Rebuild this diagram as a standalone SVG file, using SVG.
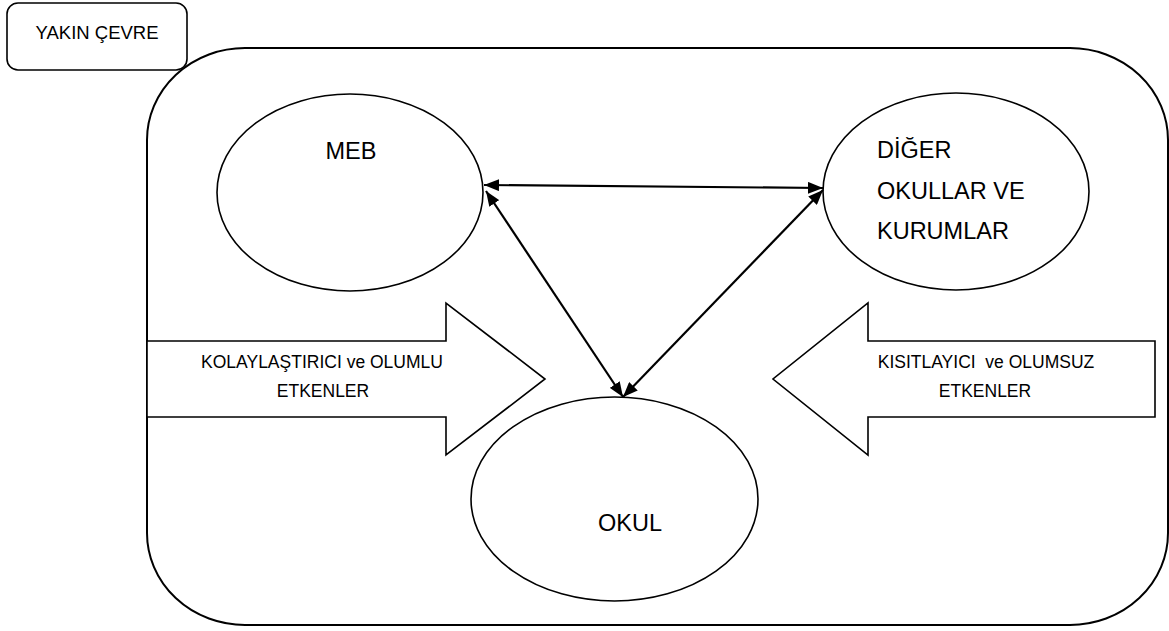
<svg xmlns="http://www.w3.org/2000/svg" width="1169" height="631" viewBox="0 0 1169 631">
<defs>
<style>
.shape{fill:#fff;stroke:#000;stroke-width:1.6}
.frame{fill:#fff;stroke:#000;stroke-width:2}
.conn{fill:none;stroke:#000;stroke-width:2.2;marker-start:url(#ah);marker-end:url(#ah)}
.t{font-family:"Liberation Sans",Arial,sans-serif;fill:#000}
.big{font-size:23.5px}
.mid{font-size:17.5px;white-space:pre}
.small{font-size:18.5px}
</style>
<marker id="ah" markerUnits="userSpaceOnUse" markerWidth="15" markerHeight="12" viewBox="0 0 15 12" refX="15" refY="6" orient="auto-start-reverse">
<path d="M0,0 L15,6 L0,12 z" fill="#000"/>
</marker>
</defs>
<rect width="1169" height="631" fill="#fff"/>
<g id="yakin-cevre-frame">
<rect class="frame" x="147" y="48" width="1021" height="577" rx="98" ry="92"/>
</g>
<g id="yakin-cevre-label">
<rect class="shape" x="7" y="3" width="180" height="67" rx="11" ry="11"/>
<text class="t small" x="97" y="39" text-anchor="middle">YAKIN ÇEVRE</text>
</g>
<g id="olumlu-etkenler">
<polygon class="shape" points="147,341 446,341 446,303 545,379 446,455 446,417 147,417"/>
<text class="t mid" x="322" y="368" text-anchor="middle">KOLAYLAŞTIRICI ve OLUMLU</text>
<text class="t mid" x="323" y="397" text-anchor="middle">ETKENLER</text>
</g>
<g id="olumsuz-etkenler">
<polygon class="shape" points="1155,341 868,341 868,303 773,379 868,455 868,417 1155,417"/>
<text class="t mid" x="986" y="368" text-anchor="middle">KISITLAYICI  ve OLUMSUZ</text>
<text class="t mid" x="985" y="397" text-anchor="middle">ETKENLER</text>
</g>
<g id="meb">
<ellipse class="shape" cx="350" cy="192.5" rx="133" ry="98.5"/>
<text class="t big" x="351" y="159" text-anchor="middle">MEB</text>
</g>
<g id="diger-okullar">
<ellipse class="shape" cx="956" cy="191.5" rx="133" ry="98.5"/>
<text class="t big" x="877" y="158">DİĞER</text>
<text class="t big" x="877" y="199">OKULLAR VE</text>
<text class="t big" x="877" y="239">KURUMLAR</text>
</g>
<g id="okul">
<ellipse class="shape" cx="614.5" cy="499" rx="143.5" ry="102"/>
<text class="t big" x="630" y="531" text-anchor="middle">OKUL</text>
</g>
<g id="connectors">
<line class="conn" x1="484" y1="185" x2="823" y2="188"/>
<line class="conn" x1="486" y1="191" x2="623" y2="397"/>
<line class="conn" x1="823" y1="190" x2="623" y2="397"/>
</g>
</svg>
